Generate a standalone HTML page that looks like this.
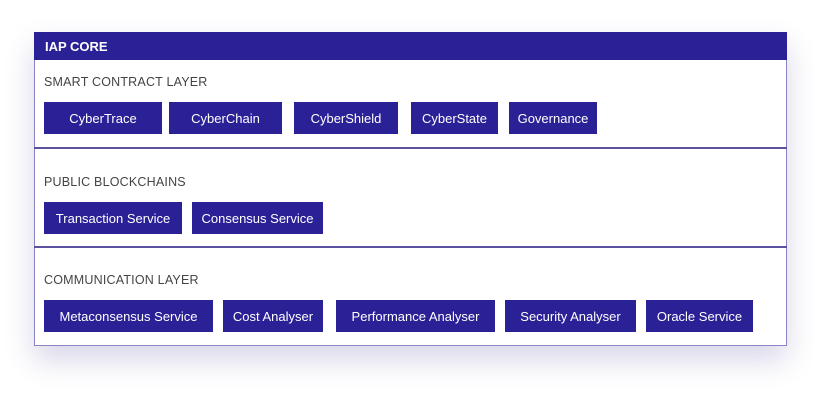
<!DOCTYPE html>
<html><head><style>
body{margin:0;width:815px;height:416px;background:#fff;position:relative;font-family:"Liberation Sans",sans-serif;overflow:hidden}
.box{position:absolute;left:34px;top:32px;width:753px;height:314px;box-sizing:border-box;border:1px solid #8a85c4;box-shadow:0 14px 28px rgba(60,50,140,0.2)}
.hdr{position:absolute;left:34px;top:32px;width:753px;height:28px;background:#2b2196;color:#fff;font-weight:bold;font-size:13px;line-height:29px;padding-left:11px;box-sizing:border-box}
.line{position:absolute;left:34px;width:753px;height:2px;background:#5a529e}
.lbl{position:absolute;left:44px;font-size:12.5px;color:#444;letter-spacing:0.2px}
.b{position:absolute;height:32px;background:#2b2196;color:#fff;font-size:13px;line-height:34px;text-align:center}
</style></head><body>
<div class="box"></div>
<div class="hdr">IAP CORE</div>
<div class="line" style="top:147px"></div>
<div class="line" style="top:246px"></div>
<div class="lbl" style="top:75px">SMART CONTRACT LAYER</div>
<div class="lbl" style="top:175px">PUBLIC BLOCKCHAINS</div>
<div class="lbl" style="top:273px">COMMUNICATION LAYER</div>
<div class="b" style="left:44px;top:102px;width:118px">CyberTrace</div>
<div class="b" style="left:169px;top:102px;width:113px">CyberChain</div>
<div class="b" style="left:294px;top:102px;width:104px">CyberShield</div>
<div class="b" style="left:411px;top:102px;width:87px">CyberState</div>
<div class="b" style="left:509px;top:102px;width:88px">Governance</div>
<div class="b" style="left:44px;top:202px;width:138px">Transaction Service</div>
<div class="b" style="left:192px;top:202px;width:131px">Consensus Service</div>
<div class="b" style="left:44px;top:300px;width:169px">Metaconsensus Service</div>
<div class="b" style="left:223px;top:300px;width:100px">Cost Analyser</div>
<div class="b" style="left:336px;top:300px;width:159px">Performance Analyser</div>
<div class="b" style="left:505px;top:300px;width:131px">Security Analyser</div>
<div class="b" style="left:646px;top:300px;width:107px">Oracle Service</div>
</body></html>
